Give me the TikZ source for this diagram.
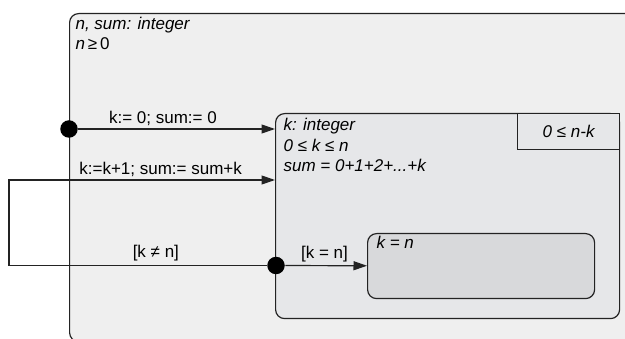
\documentclass[tikz,border=0pt]{standalone}
\usepackage{fontspec}
\setmainfont{Liberation Sans}
\usetikzlibrary{arrows.meta,positioning}
\definecolor{outerfill}{RGB}{239,239,239}
\definecolor{innerfill}{RGB}{230,231,233}
\definecolor{finalfill}{RGB}{216,217,219}
\definecolor{lineclr}{RGB}{35,35,35}
\begin{document}
\begin{tikzpicture}[x=1pt, y=-1pt, >={Triangle[length=13.5pt,width=9pt]}, line width=1.2pt, draw=lineclr,
    state/.style={draw=lineclr, rounded corners=9pt, anchor=north west, inner sep=0pt},
    decl/.style={anchor=north west, align=left, inner sep=0pt, font=\fontsize{17}{20.5}\selectfont\itshape},
    dot/.style={circle, fill=black, inner sep=0pt, minimum size=17.5pt},
    guard/.style={inner sep=0pt, text depth=0pt, font=\fontsize{17}{20}\selectfont}]
\useasboundingbox (0,0) rectangle (625,339);

\node[state, fill=outerfill, minimum width=600pt, minimum height=328pt] (outer) at (69,13) {};
\node[state, fill=innerfill, minimum width=344pt, minimum height=205pt] (inner) at (275,113) {};
\node[draw=lineclr, fill=innerfill, anchor=north east, minimum width=102pt, minimum height=36pt,
      font=\fontsize{17}{20}\selectfont\itshape] (inv) at (inner.north east) {0 ≤ n-k};
\node[state, fill=finalfill, minimum width=227pt, minimum height=65pt] (final) at (367,233) {};

% declarations
\node[decl] (ndecl) [below right=3.5pt and 6pt of outer.north west] {n, sum: integer\\ n\,\upshape≥\,0};
\node[decl] (kdecl) [below right=5pt and 8pt of inner.north west] {k: integer\\ 0 ≤ k ≤ n\\ sum = 0+1+2+...+k};
\node[decl] (fdecl) [below right=3pt and 9pt of final.north west] {k = n};

% pseudostates
\node[dot] (init) at (69,129) {};
\node[dot] (choice) at (276,265.5) {};
\coordinate (loopB) at (9,265.5);
\coordinate (loopT) at (9,180);

% transitions
\draw[->] (init) -- node[guard, above=5pt, pos=0.43] {k:= 0; sum:= 0} (init -| inner.west);
\draw[->] (choice) -- node[guard, above=7pt, pos=0.43] {[k ≠ n]} (loopB) -- (loopT)
    -- node[guard, above=5pt, pos=0.57] {k:=k+1; sum:= sum+k} (loopT -| inner.west);
\draw[->] (choice) -- node[guard, above=7pt, pos=0.48] {[k = n]} (final);
\end{tikzpicture}
\end{document}
